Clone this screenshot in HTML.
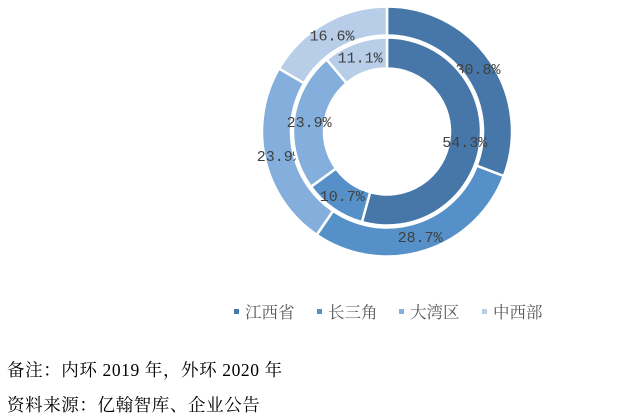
<!DOCTYPE html>
<html><head><meta charset="utf-8"><style>
body{margin:0;width:630px;height:418px;background:#fff;overflow:hidden;position:relative;font-family:"Liberation Serif","Noto Serif CJK SC",serif}
.note{position:absolute;left:7px;font-size:17.5px;color:#000;white-space:nowrap;letter-spacing:0.6px}
</style></head><body>
<svg id="chart" width="630" height="418" style="position:absolute;left:0;top:0"></svg>
<div class="note" style="top:357px">备注：内环 2019 年，外环 2020 年</div>
<div class="note" style="top:392px">资料来源：亿翰智库、企业公告</div>
<script>
const categories=["江西省","长三角","大湾区","中西部"];
const inner2019=[54.3,10.7,23.9,11.1];
const outer2020=[30.8,28.7,23.9,16.6];
const colors=["#4677a8","#5591c8","#84aedb","#b7cde8"];
const ns="http://www.w3.org/2000/svg";
const svg=document.getElementById("chart");
const cx=387,cy=131.5;
function pt(r,a){return [cx+r*Math.sin(a),cy-r*Math.cos(a)];}
function ring(vals,r0,r1,key){
  const tot=vals.reduce((a,b)=>a+b,0);let a=0;
  vals.forEach((v,i)=>{
    const a0=a/tot*2*Math.PI,a1=(a+v)/tot*2*Math.PI;a+=v;
    const lg=(a1-a0)>Math.PI?1:0;
    const p1=pt(r1,a0),p2=pt(r1,a1),p3=pt(r0,a1),p4=pt(r0,a0);
    const p=document.createElementNS(ns,"path");
    p.setAttribute("d",`M${p1}A${r1},${r1} 0 ${lg} 1 ${p2}L${p3}A${r0},${r0} 0 ${lg} 0 ${p4}Z`);
    p.setAttribute("fill",colors[i]);p.setAttribute("stroke","#fff");p.setAttribute("stroke-width","2.5");
    
    
    svg.appendChild(p);
    const m=pt((r0+r1)/2,(a0+a1)/2);
    const t=document.createElementNS(ns,"text");
    t.setAttribute("x",m[0]);t.setAttribute("y",m[1]+5);t.setAttribute("text-anchor","middle");
    t.setAttribute("font-family","Liberation Mono, monospace");t.setAttribute("font-size","15");t.setAttribute("fill","#404040");
    t.textContent=v.toFixed(1)+"%";
    
    
    svg.appendChild(t);
  });
}
ring(outer2020,96,125,"outer-2020");
ring(inner2019,63,94,"inner-2019");
const lx=[234,317,399,482];
categories.forEach((c,i)=>{
  const r=document.createElementNS(ns,"rect");
  r.setAttribute("x",lx[i]);r.setAttribute("y",309);r.setAttribute("width",5);r.setAttribute("height",5);r.setAttribute("fill",colors[i]);
  
  
  svg.appendChild(r);
  const t=document.createElementNS(ns,"text");
  t.setAttribute("x",lx[i]+11);t.setAttribute("y",318);t.setAttribute("font-size","16.5");t.setAttribute("fill","#595959");
  t.setAttribute("font-family","Liberation Serif, Noto Serif CJK SC, serif");
  t.textContent=c;
  
  
  svg.appendChild(t);
});
</script>
</body></html>
